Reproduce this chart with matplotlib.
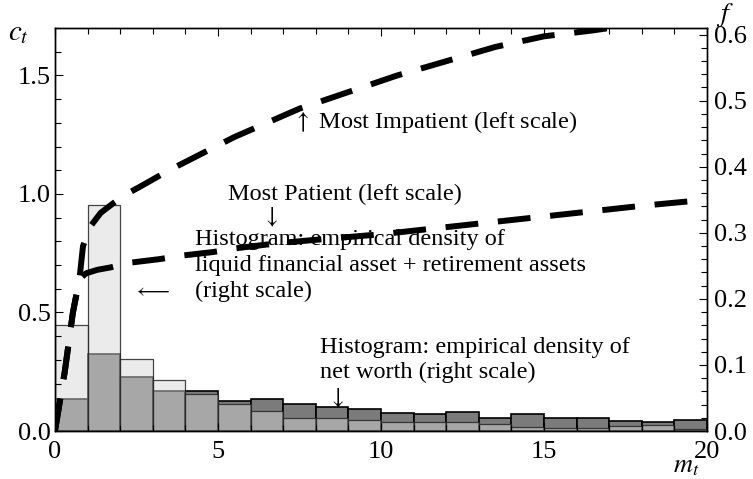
import numpy as np
import matplotlib
matplotlib.use('Agg')
import matplotlib.pyplot as plt
from matplotlib.ticker import MultipleLocator

plt.rcParams['font.family'] = ['Liberation Serif', 'DejaVu Serif']
plt.rcParams['mathtext.fontset'] = 'stix'

# histogram bins (width 1, left edges 0..19), densities on the right scale
bin_left = np.arange(20)
liquid_density = [0.161, 0.342, 0.109, 0.077, 0.056, 0.041, 0.030, 0.019, 0.020, 0.016,
                  0.014, 0.014, 0.014, 0.010, 0.006, 0.004, 0.005, 0.008, 0.009, 0.003]
networth_density = [0.048, 0.117, 0.081, 0.060, 0.060, 0.045, 0.049, 0.041, 0.037, 0.033,
                    0.028, 0.026, 0.029, 0.020, 0.025, 0.019, 0.020, 0.015, 0.013, 0.017]

# consumption functions (left scale)
m_impatient = [0, 0.3, 0.55, 0.75, 0.86, 1.07, 1.4, 1.78, 2.2, 2.6, 3.5, 4.5, 5.5, 6.5,
               7.5, 9, 10.5, 12, 13.5, 15, 16.5, 18, 20]
c_impatient = [0, 0.25, 0.5, 0.64, 0.78, 0.86, 0.92, 0.96, 1.0, 1.03, 1.10, 1.17, 1.24,
               1.30, 1.36, 1.43, 1.50, 1.56, 1.62, 1.665, 1.69, 1.72, 1.76]
m_patient = [0, 0.3, 0.55, 0.75, 0.95, 1.3, 1.7, 2.3, 3.2, 3.9, 4.85, 5.5, 6.4, 7.06, 8.04,
             10, 12, 14, 16, 18, 20]
c_patient = [0, 0.25, 0.5, 0.64, 0.665, 0.68, 0.69, 0.71, 0.725, 0.74, 0.755, 0.77, 0.785,
             0.795, 0.807, 0.83, 0.86, 0.89, 0.92, 0.95, 0.976]

fig = plt.figure(figsize=(7.53, 4.79), dpi=100)
ax = fig.add_axes([0.073, 0.1002, 0.866, 0.8413])
ax2 = ax.twinx()

# histograms on the right axis
ax2.bar(bin_left, networth_density, width=1, align='edge', color='#7b7b7b',
        edgecolor='black', linewidth=1.2, zorder=1)
ax2.bar(bin_left, liquid_density, width=1, align='edge', facecolor=(0.84, 0.84, 0.84, 0.485),
        edgecolor=(0.15, 0.15, 0.15, 0.85), linewidth=0.9, zorder=2)

# consumption functions on the left axis, drawn above the bars
ax.set_zorder(ax2.get_zorder() + 1)
ax.patch.set_visible(False)
ax.plot(m_impatient, c_impatient, color='black', lw=4.3, dashes=(5.5, 3.3), dash_capstyle='butt')
ax.plot(m_patient, c_patient, color='black', lw=4.3, dashes=(5.5, 3.3), dash_capstyle='butt')

ax.set_xlim(0, 20)
ax.set_ylim(0, 1.7)
ax2.set_ylim(0, 0.61)

ax.xaxis.set_major_locator(MultipleLocator(5))
ax.xaxis.set_minor_locator(MultipleLocator(1))
ax.yaxis.set_major_locator(MultipleLocator(0.5))
ax.yaxis.set_minor_locator(MultipleLocator(0.1))
ax2.yaxis.set_major_locator(MultipleLocator(0.1))
ax2.yaxis.set_minor_locator(MultipleLocator(0.02))
ax.yaxis.set_major_formatter(lambda v, p: f'{v:.1f}')
ax2.yaxis.set_major_formatter(lambda v, p: f'{v:.1f}')

ax.tick_params(which='both', direction='in', top=True, right=False, labelsize=19)
ax.tick_params(axis='x', pad=7)
ax.tick_params(axis='y', pad=3)
ax.tick_params(which='major', length=6, width=0.8)
ax.tick_params(which='minor', length=4, width=0.8)
ax2.tick_params(which='both', direction='in', labelsize=19, pad=5)
ax2.tick_params(which='major', length=6, width=0.8)
ax2.tick_params(which='minor', length=4, width=0.8)
for a in (ax, ax2):
    for s in a.spines.values():
        s.set_linewidth(1.0)

# axis labels
fig.text(0.01, 0.93, r'$c_t$', fontsize=21, ha='left', va='center')
fig.text(0.963, 0.998, r'$f$', fontsize=20, ha='center', va='top')
fig.text(0.912, 0.026, r'$m_t$', fontsize=19, ha='center', va='center')

fs = 17.5
ax.text(7.3, 1.305, r'$\uparrow$ Most Impatient (left scale)', fontsize=fs, va='center')
ax.text(5.31, 0.997, 'Most Patient (left scale)', fontsize=fs, va='center')
ax.text(6.6, 0.90, r'$\downarrow$', fontsize=fs, ha='center', va='center')
hist1_lines = ['Histogram: empirical density of',
               'liquid financial asset + retirement assets',
               '(right scale)']
for line, yv in zip(hist1_lines, [0.807, 0.697, 0.591]):
    ax.text(4.29, yv, line, fontsize=fs, va='center')
ax.text(2.95, 0.587, r'$\longleftarrow$', fontsize=15, ha='center', va='center')
hist2_lines = ['Histogram: empirical density of', 'net worth (right scale)']
for line, yv in zip(hist2_lines, [0.351, 0.249]):
    ax.text(8.13, yv, line, fontsize=fs, va='center')
ax.text(8.62, 0.139, r'$\downarrow$', fontsize=fs, ha='center', va='center')

fig.savefig('out.png', dpi=100)
